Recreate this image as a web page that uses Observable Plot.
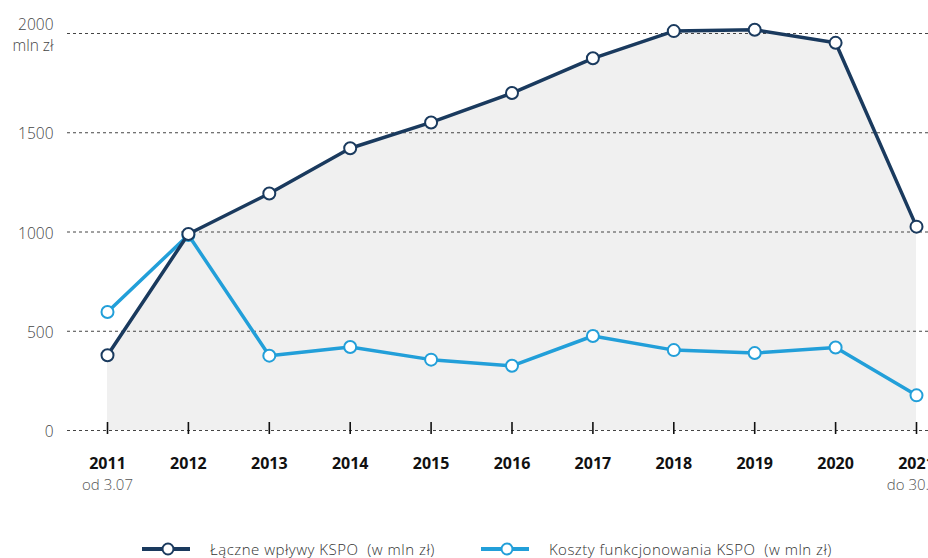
<!DOCTYPE html>
<html>
<head>
<meta charset="utf-8">
<script src="https://cdn.jsdelivr.net/npm/d3@7"></script>
<script src="https://cdn.jsdelivr.net/npm/@observablehq/plot@0.6"></script>
<style>
  html, body { margin: 0; padding: 0; background: #fff; }
  body { width: 928px; height: 558px; position: relative; overflow: hidden; font-family: "Open Sans", sans-serif; }
  #legend { position: absolute; left: 142px; top: 539px; display: flex; align-items: center; gap: 46px; font-size: 15px; letter-spacing: 0.5px; color: #333; font-weight: 300; white-space: pre; }
  .item { display: flex; align-items: center; gap: 20px; height: 20px; }
  .item svg { display: block; }
</style>
</head>
<body>
<div id="chart"></div>
<div id="legend"></div>
<script>
const years = ["2011","2012","2013","2014","2015","2016","2017","2018","2019","2020","2021"];
const inflows = [379, 990, 1194, 1422, 1552, 1700, 1875, 2012, 2019, 1953, 1027];
const costs = [597, 985, 377, 421, 357, 326, 476, 405, 390, 418, 177];
const noteYears = ["2011", "2021"];
const noteLabels = ["od 3.07", "do 30.06"];
const yTicks = [0, 500, 1000, 1500, 2000];
const seriesNames = ["Łączne wpływy KSPO  (w mln zł)", "Koszty funkcjonowania KSPO  (w mln zł)"];
const darkColor = "#1a3a5e";
const lightColor = "#229fd9";

const data = years.map((y, i) => ({year: y, inflow: inflows[i], cost: costs[i]}));
const notes = noteYears.map((y, i) => ({year: y, label: noteLabels[i]}));

const chart = Plot.plot({
  width: 928,
  height: 530,
  marginLeft: 67,
  marginRight: 0,
  marginTop: 33,
  marginBottom: 100,
  style: {fontFamily: "'Open Sans', sans-serif", background: "transparent", overflow: "visible"},
  x: {type: "point", domain: years, padding: 0, round: false, insetLeft: 40, insetRight: 12},
  y: {domain: [0, 2000]},
  marks: [
    Plot.areaY(data, {x: "year", y: "inflow", fill: "#f0f0f0"}),
    Plot.ruleY(yTicks, {stroke: "#444", strokeWidth: 1, strokeDasharray: "3,3"}),
    Plot.ruleX(years, {x: d => d, y1: 0, y2: 0, insetTop: -8, insetBottom: -4, stroke: "#111", strokeWidth: 1.6}),
    Plot.axisY(yTicks, {
      tickSize: 0, tickPadding: 14, fontSize: 15.5, fill: "#444", fontWeight: 300,
      lineHeight: 1.35,
      tickFormat: d => d === 2000 ? "2000\nmln zł" : String(d),
      label: null
    }),
    Plot.axisX({
      tickSize: 0, tickPadding: 27, fontSize: 16, fontWeight: "bold", fill: "#111", label: null
    }),
    Plot.text(notes, {x: "year", text: "label", frameAnchor: "bottom", dy: 59, fontSize: 15, fill: "#555", fontWeight: 300}),
    Plot.line(data, {x: "year", y: "cost", stroke: lightColor, strokeWidth: 3.5}),
    Plot.dot(data, {x: "year", y: "cost", r: 6, fill: "#fff", stroke: lightColor, strokeWidth: 2}),
    Plot.line(data, {x: "year", y: "inflow", stroke: darkColor, strokeWidth: 3.5}),
    Plot.dot(data, {x: "year", y: "inflow", r: 6, fill: "#fff", stroke: darkColor, strokeWidth: 2})
  ]
});
document.getElementById("chart").appendChild(chart);

const legend = document.getElementById("legend");
[[seriesNames[0], darkColor], [seriesNames[1], lightColor]].forEach(([name, color]) => {
  const item = document.createElement("div");
  item.className = "item";
  item.innerHTML = `<svg width="48" height="16"><line x1="0" y1="8" x2="48" y2="8" stroke="${color}" stroke-width="4"/><circle cx="26" cy="8" r="5.5" fill="#fff" stroke="${color}" stroke-width="2"/></svg><span>${name}</span>`;
  legend.appendChild(item);
});
</script>
</body>
</html>
